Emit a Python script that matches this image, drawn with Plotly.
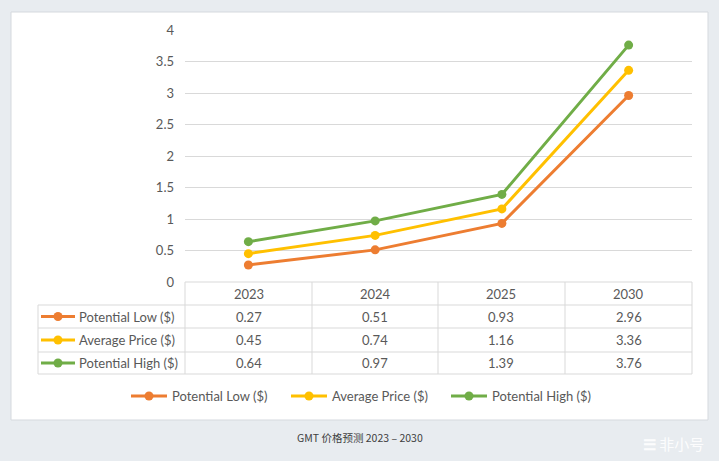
import plotly.graph_objects as go

years = ["2023", "2024", "2025", "2030"]
series_names = ["Potential Low ($)", "Average Price ($)", "Potential High ($)"]
low = [0.27, 0.51, 0.93, 2.96]
avg = [0.45, 0.74, 1.16, 3.36]
high = [0.64, 0.97, 1.39, 3.76]
series_values = [low, avg, high]
colors = ["#ED7D31", "#FFC000", "#70AD47"]
y_ticks = [0, 0.5, 1, 1.5, 2, 2.5, 3, 3.5, 4]
caption = "GMT 价格预测 2023 – 2030"

W, H = 719, 461
FONT = "Lato, 'Noto Sans', sans-serif"
TXT = "#595959"
GRID = "#d9d9d9"


def px(x):
    return x / W


def py(y):
    return 1 - y / H


fig = go.Figure()
for name, vals, col in zip(series_names, series_values, colors):
    fig.add_trace(go.Scatter(
        x=years, y=vals, name=name, mode="lines+markers",
        line=dict(color=col, width=3),
        marker=dict(color=col, size=9),
    ))

shapes = []
annotations = []

# white chart box
shapes.append(dict(type="rect", xref="paper", yref="paper", layer="below",
                   x0=px(11), x1=px(708), y0=py(420), y1=py(12),
                   fillcolor="white", line=dict(color="#d5d9de", width=1)))

# data table grid
col_edges = [185, 312, 438, 565, 692]
row_edges = [282, 305, 328, 352, 374]
left = 38
shapes.append(dict(type="line", xref="paper", yref="paper",
                   x0=px(185), x1=px(692), y0=py(282), y1=py(282),
                   line=dict(color=GRID, width=1)))
for ry in row_edges[1:]:
    shapes.append(dict(type="line", xref="paper", yref="paper",
                       x0=px(left), x1=px(692), y0=py(ry), y1=py(ry),
                       line=dict(color=GRID, width=1)))
shapes.append(dict(type="line", xref="paper", yref="paper",
                   x0=px(left), x1=px(left), y0=py(305), y1=py(374),
                   line=dict(color=GRID, width=1)))
for cx in col_edges:
    shapes.append(dict(type="line", xref="paper", yref="paper",
                       x0=px(cx), x1=px(cx), y0=py(282), y1=py(374),
                       line=dict(color=GRID, width=1)))

# header labels
for i, yr in enumerate(years):
    cx = (col_edges[i] + col_edges[i + 1]) / 2
    annotations.append(dict(xref="paper", yref="paper", x=px(cx), y=py(294),
                            text=yr, showarrow=False, xanchor="center", yanchor="middle",
                            font=dict(family=FONT, size=13, color=TXT)))

# rows
for r, (name, vals, col) in enumerate(zip(series_names, series_values, colors)):
    cy = (row_edges[r + 1] + row_edges[r + 2]) / 2
    shapes.append(dict(type="line", xref="paper", yref="paper",
                       x0=px(41), x1=px(75), y0=py(cy), y1=py(cy),
                       line=dict(color=col, width=3)))
    shapes.append(dict(type="circle", xref="paper", yref="paper",
                       x0=px(53.5), x1=px(62.5), y0=py(cy + 4.5), y1=py(cy - 4.5),
                       fillcolor=col, line=dict(color=col, width=0)))
    annotations.append(dict(xref="paper", yref="paper", x=px(77), y=py(cy),
                            text=name, showarrow=False, xanchor="left", yanchor="middle",
                            font=dict(family=FONT, size=13, color=TXT)))
    for i, v in enumerate(vals):
        cx = (col_edges[i] + col_edges[i + 1]) / 2
        annotations.append(dict(xref="paper", yref="paper", x=px(cx), y=py(cy),
                                text=f"{v:.2f}", showarrow=False, xanchor="center",
                                yanchor="middle",
                                font=dict(family=FONT, size=13, color=TXT)))

# caption
annotations.append(dict(xref="paper", yref="paper", x=px(360), y=py(437),
                        text=caption, showarrow=False, xanchor="center", yanchor="middle",
                        font=dict(family="'Noto Sans CJK SC', 'Noto Sans', sans-serif",
                                  size=10.5, color="#404040")))
# watermark
annotations.append(dict(xref="paper", yref="paper", x=px(706), y=py(443),
                        text="<b>☰</b> 非小号", showarrow=False, xanchor="right", yanchor="middle",
                        font=dict(family="'Noto Sans CJK SC', sans-serif",
                                  size=15, color="rgba(255,255,255,0.9)")))

fig.update_layout(
    width=W, height=H, autosize=False,
    margin=dict(l=0, r=0, t=0, b=0, autoexpand=False),
    paper_bgcolor="#e8ecf0",
    plot_bgcolor="white",
    font=dict(family=FONT, color=TXT, size=13),
    shapes=shapes,
    annotations=annotations,
    xaxis=dict(domain=[px(185), px(692)], type="category", range=[-0.5, 3.5],
               showticklabels=False, showgrid=False, zeroline=False, showline=False,
               fixedrange=True, automargin=False),
    yaxis=dict(domain=[py(282), py(30)], range=[0, 4], tickvals=y_ticks,
               ticktext=[f"{t:g}" for t in y_ticks], automargin=False,
               showgrid=True, gridcolor=GRID, gridwidth=1, zeroline=False,
               showline=False, ticks="", ticklabelstandoff=10,
               tickfont=dict(family=FONT, size=13, color=TXT)),
    legend=dict(orientation="h", x=px(366), xanchor="center", y=py(396),
                yanchor="middle", font=dict(family=FONT, size=13, color=TXT),
                bgcolor="rgba(0,0,0,0)", itemwidth=36, tracegroupgap=0,
                entrywidth=109, entrywidthmode="pixels"),
    showlegend=True,
)

post = ("document.body.style.margin='0';document.body.style.padding='0';"
        "document.body.style.overflow='hidden';"
        "var g=document.getElementById('{plot_id}');"
        "g.parentElement.style.fontSize='0';g.parentElement.style.lineHeight='0';")
fig.write_html("out.html", post_script=post, config={"displayModeBar": False})
